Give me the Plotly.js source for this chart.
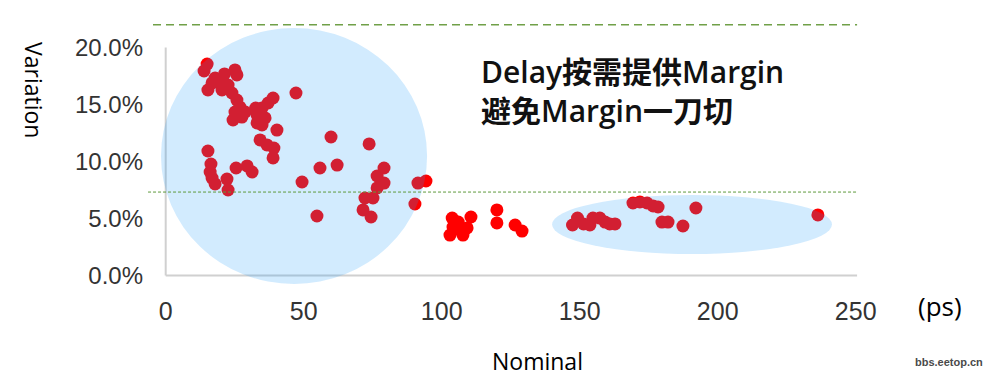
<!DOCTYPE html>
<html>
<head>
<meta charset="utf-8">
<script src="https://cdn.plot.ly/plotly-3.0.1.min.js"></script>
<style>html,body{margin:0;padding:0;background:#fff;}#chart{width:989px;height:382px;}</style>
</head>
<body>
<div id="chart"></div>
<script>
// Nominal delay (ps) and variation (%)
const nominalPs = [
  15.0, 13.9, 21.3, 25.1, 25.8, 16.8, 15.3, 18.9, 22.6, 24.0,
  25.8, 26.9, 25.1, 24.4, 27.6, 33.1, 33.1, 34.9, 37.1, 38.9,
  36.0, 40.3, 34.2, 36.7, 39.2, 38.9, 47.2, 15.3, 16.4, 16.1,
  16.8, 17.9, 22.2, 22.6, 25.5, 29.5, 31.3, 49.4, 59.9, 73.7,
  55.9, 62.1, 54.8, 79.1, 76.6, 79.1, 76.6, 72.2, 75.1, 71.5,
  74.4, 91.4, 94.3, 90.3, 17.9, 20.4, 28.8, 32.6, 34.9,
  103.8, 110.6, 103.0, 106.6, 109.2, 104.1, 106.0, 107.7, 120.0, 120.0, 126.6, 129.1,
  147.4, 149.2, 151.4, 153.7, 154.8, 157.3, 159.2, 160.9, 162.8, 169.3,
  171.8, 174.4, 176.6, 178.4, 179.8, 182.0, 187.4, 192.1, 236.3
];
const variationPct = [
  18.55, 17.94, 17.68, 18.03, 17.59, 16.89, 16.27, 16.97, 16.71, 16.01,
  15.39, 14.78, 14.34, 13.64, 13.90, 14.08, 13.38, 14.69, 15.13, 15.57,
  13.82, 12.76, 11.89, 11.45, 11.18, 10.31, 16.01, 10.92, 9.78, 9.08,
  8.55, 8.03, 8.46, 7.50, 9.43, 9.61, 9.08, 8.20, 12.15, 11.54,
  9.43, 9.69, 5.22, 9.43, 8.73, 8.11, 7.68, 6.80, 6.80, 5.75,
  5.13, 8.11, 8.29, 6.27, 17.32, 16.27, 14.34, 14.69, 13.20,
  5.04, 5.13, 3.55, 3.99, 4.17, 4.25, 4.69, 3.55, 5.75, 4.61, 4.43, 3.90,
  4.43, 5.04, 4.52, 4.43, 5.04, 5.04, 4.69, 4.52, 4.52, 6.36,
  6.45, 6.36, 6.10, 6.01, 4.69, 4.69, 4.34, 5.92, 5.31
];
const xTickVals = [0, 50, 100, 150, 200, 250];
const xTickText = ['0', '50', '100', '150', '200', '250'];
const yTickVals = [0, 5, 10, 15, 20];
const yTickText = ['0.0%', '5.0%', '10.0%', '15.0%', '20.0%'];
const upperLimitPct = 22;
const marginLinePct = 7.32;

// plot-area geometry
const L = 146, R = 862, T = 18, B = 290, W = 989, H = 382;
const px = v => (v - L) / (R - L);
const py = v => (B - v) / (B - T);

const trace = {
  x: nominalPs, y: variationPct, type: 'scatter', mode: 'markers',
  marker: {color: '#FF0000', size: 13, line: {width: 0}},
  hoverinfo: 'x+y', showlegend: false
};

const overlay = 'rgba(30,155,250,0.2)';
const shapes = [
  // axis lines
  {type: 'line', xref: 'x', yref: 'y', x0: 0, x1: 250.5, y0: 0, y1: 0, layer: 'below', line: {color: '#D0D0D0', width: 2}},
  {type: 'line', xref: 'x', yref: 'y', x0: 0, x1: 0, y0: 0, y1: 20, layer: 'below', line: {color: '#D0D0D0', width: 2}},
  // highlight areas
  {type: 'circle', xref: 'x', yref: 'y', x0: -1.7, x1: 94.7, y0: -0.75, y1: 21.7, layer: 'above', fillcolor: overlay, line: {width: 0}},
  {type: 'circle', xref: 'x', yref: 'y', x0: 140.0, x1: 241.4, y0: 1.89, y1: 7.06, layer: 'above', fillcolor: overlay, line: {width: 0}},
  // dashed limit lines
  {type: 'line', xref: 'x', yref: 'y', x0: -4.6, x1: 250.5, y0: upperLimitPct, y1: upperLimitPct, layer: 'above', line: {color: '#70A048', width: 1.5, dash: '8px,5px'}},
  {type: 'line', xref: 'x', yref: 'y', x0: -6.4, x1: 250.5, y0: marginLinePct, y1: marginLinePct, layer: 'above', line: {color: '#5E9A3C', width: 1, dash: '3px,2px'}}
];

const cjk = '"Open Sans", "Noto Sans CJK SC", sans-serif';
const annotations = [
  {xref: 'paper', yref: 'paper', x: px(479), y: py(91), xanchor: 'left', yanchor: 'middle', align: 'left', showarrow: false,
   text: 'Delay按需提供Margin<br>避免Margin一刀切', font: {family: cjk, size: 30, color: '#111', weight: 600}},
  {xref: 'paper', yref: 'paper', x: px(940), y: py(306), xanchor: 'center', yanchor: 'middle', showarrow: false,
   text: '(ps)', font: {family: '"Open Sans", sans-serif', size: 26, color: '#000'}},
  {xref: 'paper', yref: 'paper', x: px(537), y: py(361), xanchor: 'center', yanchor: 'middle', showarrow: false,
   text: 'Nominal', font: {family: '"Open Sans", sans-serif', size: 23, color: '#000'}},
  {xref: 'paper', yref: 'paper', x: px(34), y: py(90), xanchor: 'center', yanchor: 'middle', showarrow: false, textangle: 90,
   text: 'Variation', font: {family: '"Open Sans", sans-serif', size: 23, color: '#000'}},
  {xref: 'paper', yref: 'paper', x: px(985), y: py(362), xanchor: 'right', yanchor: 'middle', showarrow: false,
   text: 'bbs.eetop.cn', font: {family: '"Liberation Sans Narrow", "Liberation Sans", sans-serif', size: 11, color: '#4a4a4a', weight: 700}}
];

const layout = {
  width: W, height: H,
  margin: {l: L, r: W - R, t: T, b: H - B, pad: 0},
  paper_bgcolor: '#fff', plot_bgcolor: '#fff',
  showlegend: false,
  xaxis: {
    range: [(L - 165.7) / 2.76, (R - 165.7) / 2.76],
    tickmode: 'array', tickvals: xTickVals, ticktext: xTickText, ticks: '',
    showgrid: false, zeroline: false, showline: false,
    ticklabelstandoff: 4,
    tickfont: {family: '"Liberation Sans", Arial, sans-serif', size: 25, color: '#333'}
  },
  yaxis: {
    range: [(275.5 - B) / 11.4, (275.5 - T) / 11.4],
    tickmode: 'array', tickvals: yTickVals, ticktext: yTickText, ticks: '',
    showgrid: false, zeroline: false, showline: false,
    ticklabelstandoff: 2,
    tickfont: {family: '"Liberation Sans", Arial, sans-serif', size: 24, color: '#333'}
  },
  shapes: shapes,
  annotations: annotations
};

Plotly.newPlot('chart', [trace], layout, {displayModeBar: false, staticPlot: true});
</script>
</body>
</html>
